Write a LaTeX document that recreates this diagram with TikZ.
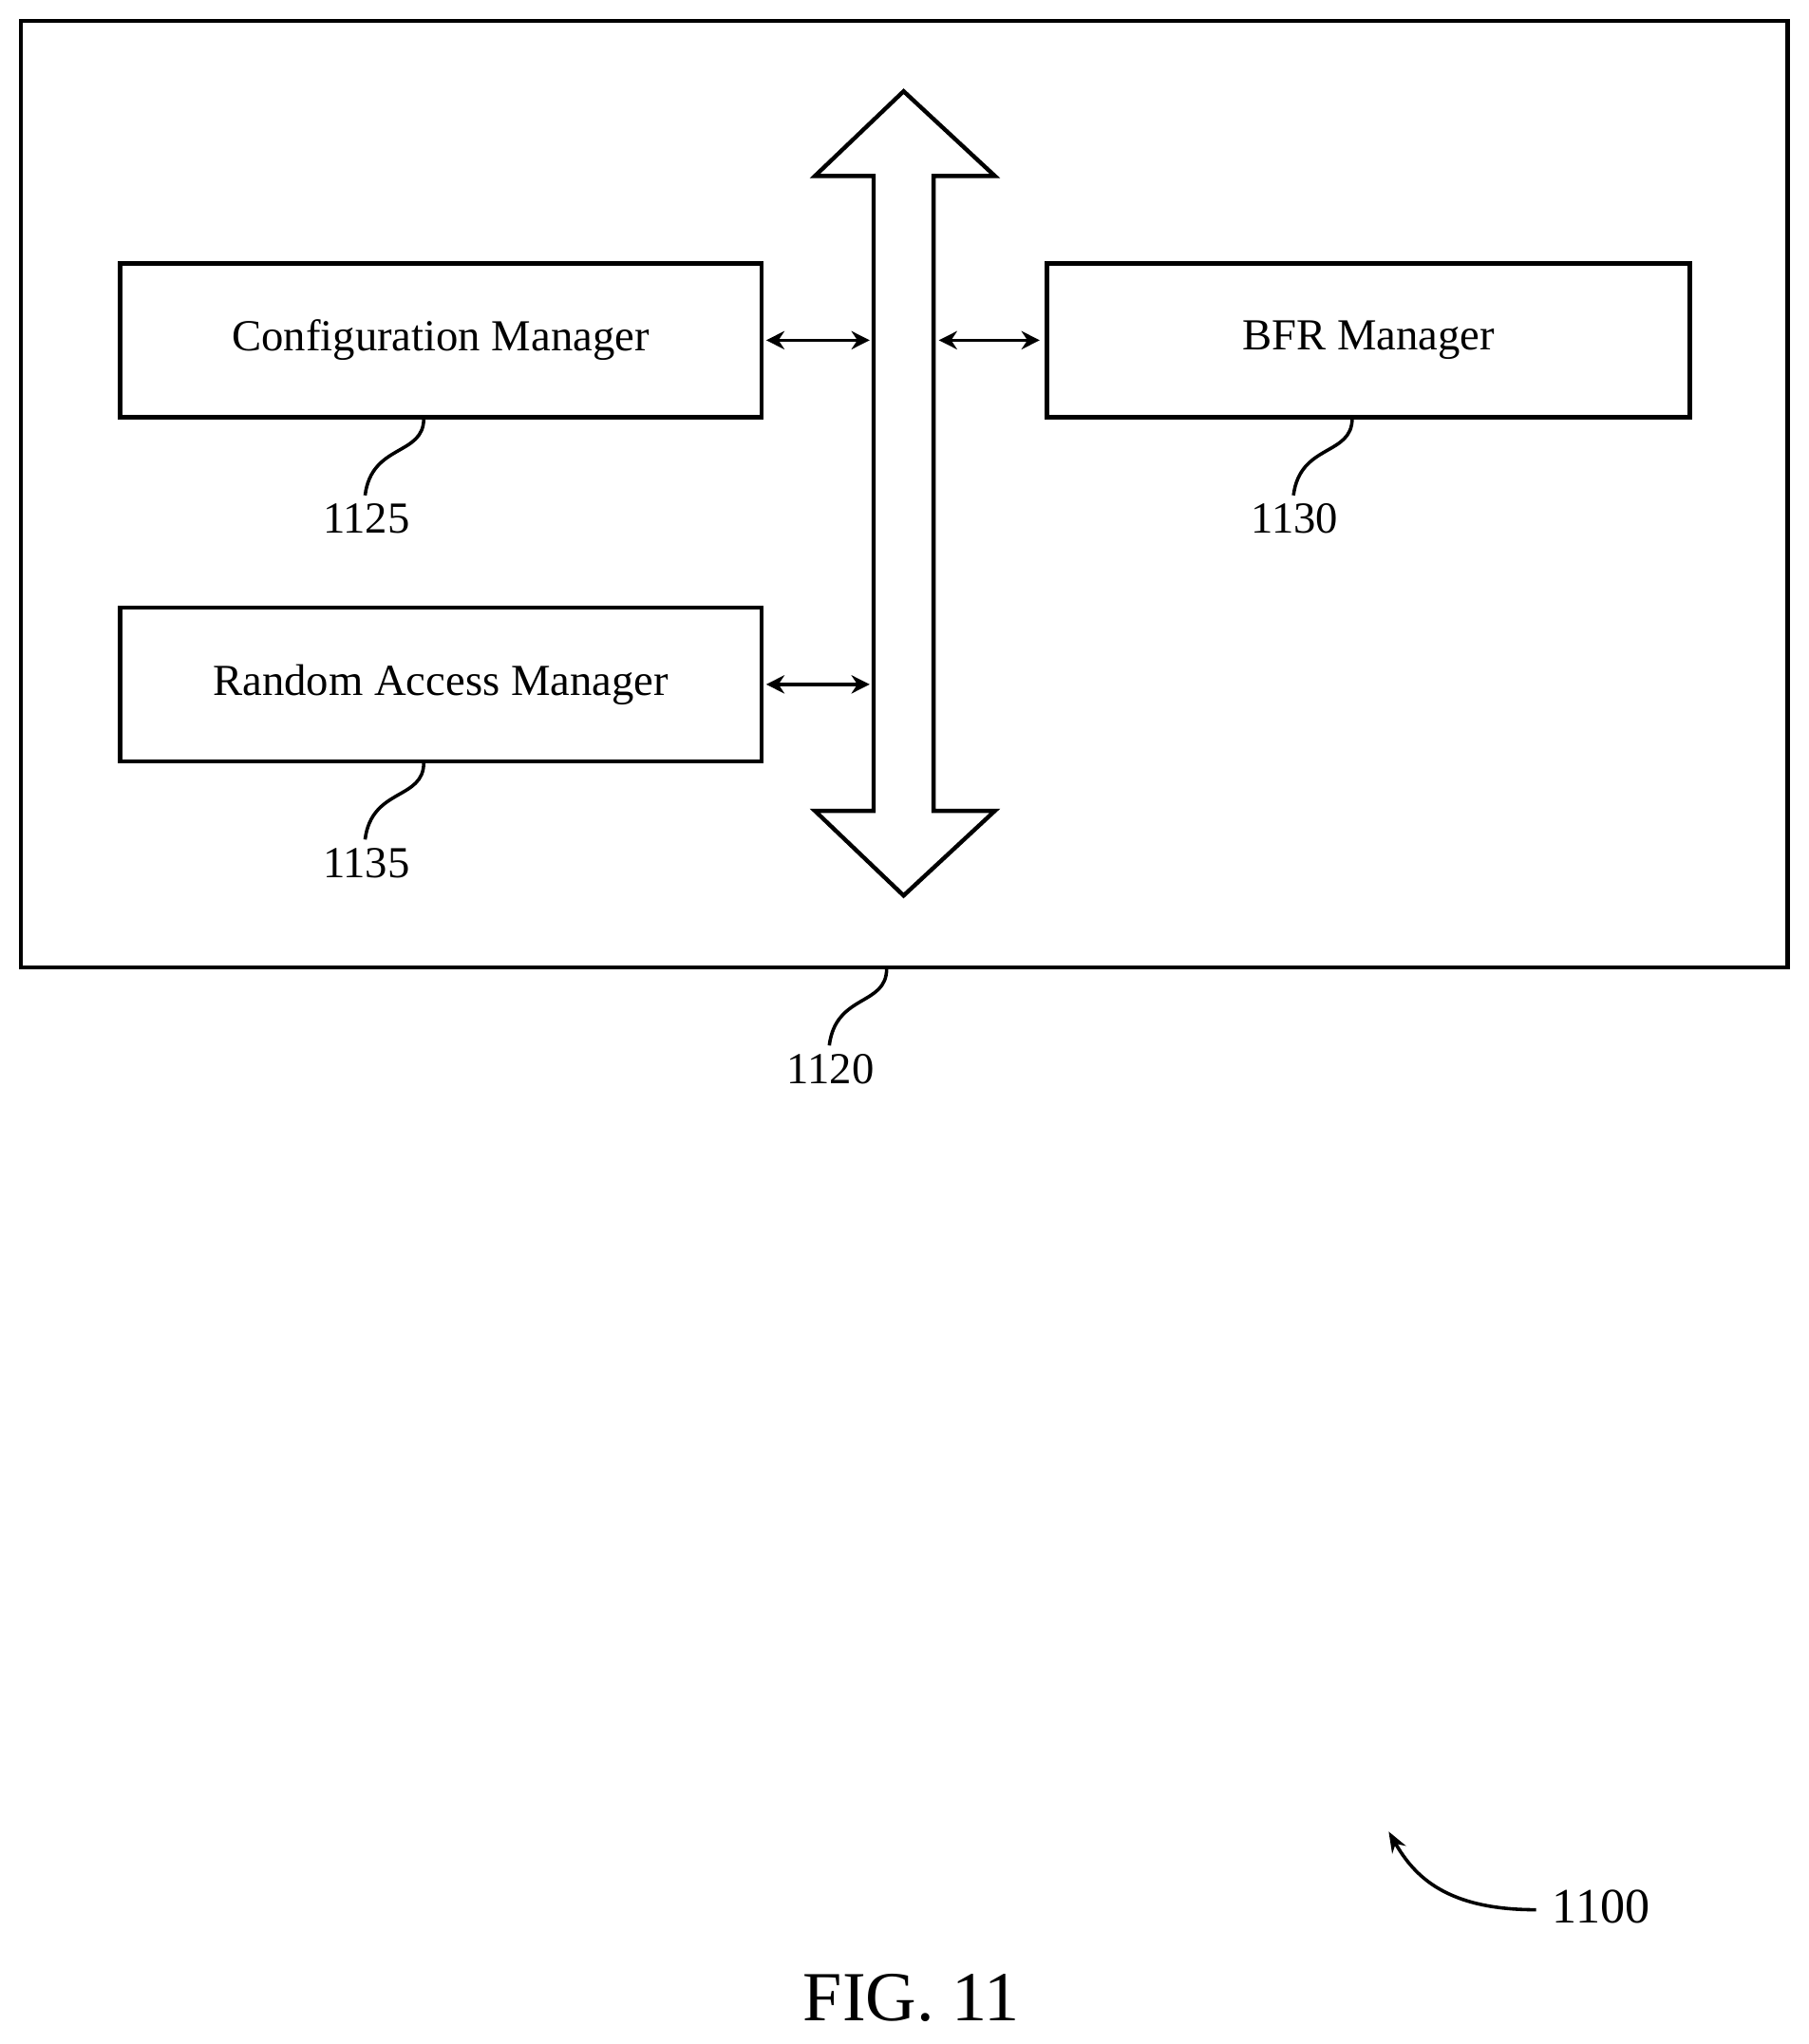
\documentclass[tikz,border=0pt]{standalone}
\usepackage{fontspec}
\setmainfont{Liberation Serif}
\usetikzlibrary{arrows.meta}
\begin{document}
\begin{tikzpicture}[x=0.5pt,y=-0.5pt,
  box/.style={draw,line width=1.6pt},
  lbl/.style={font=\fontsize{17}{20}\selectfont},
  num/.style={font=\fontsize{17}{20}\selectfont},
  lead/.style={line width=1.3pt},
  dbl/.style={line width=1.3pt,{Stealth[length=7pt,width=7pt]}-{Stealth[length=7pt,width=7pt]}}]
\useasboundingbox (0,0) rectangle (1387,1568);
\draw[box] (16,16) rectangle (1371,742);
\node[box,minimum width=246pt,minimum height=59pt,lbl] (cm) at (338,261) {Configuration Manager};
\node[box,minimum width=246.5pt,minimum height=59pt,lbl] (bfr) at (1049.5,261) {BFR Manager};
\node[box,minimum width=246pt,minimum height=59pt,lbl] (ram) at (338,525) {Random Access Manager};
\draw[line width=1.6pt] (670,622) -- (670,135) -- (625,135) -- (693,70) -- (763,135) -- (716,135) -- (716,622) -- (763,622) -- (693,687) -- (625,622) -- cycle;
\coordinate (bl1) at (667,261); \coordinate (br1) at (720,261); \coordinate (bl2) at (667,525);
\draw[dbl] (cm.east) ++(2,0) -- (bl1);
\draw[dbl] (br1) -- ([xshift=-2]bfr.west);
\draw[dbl] (ram.east) ++(2,0) -- (bl2);
\node[num] (n1125) at (281,398) {1125};
\node[num] (n1130) at (993,398) {1130};
\node[num] (n1135) at (281,662) {1135};
\node[num] (n1120) at (637,820) {1120};
\draw[lead] (325,321) .. controls (325,350) and (285,340) .. (280,380);
\draw[lead] (1037,321) .. controls (1037,350) and (997,340) .. (992,380);
\draw[lead] (325,585) .. controls (325,614) and (285,604) .. (280,644);
\draw[lead] (680,743) .. controls (680,772) and (641,762) .. (636,802);
\node[num,font=\fontsize{19}{22}\selectfont] (n1100) at (1228,1463) {1100};
\draw[lead,-{Stealth[length=8pt,width=6pt]}] (1178,1465) .. controls (1110,1465) and (1085,1440) .. (1065,1405);
\node[font=\fontsize{27}{30}\selectfont] (fig) at (699,1533) {FIG. 11};
\end{tikzpicture}
\end{document}
